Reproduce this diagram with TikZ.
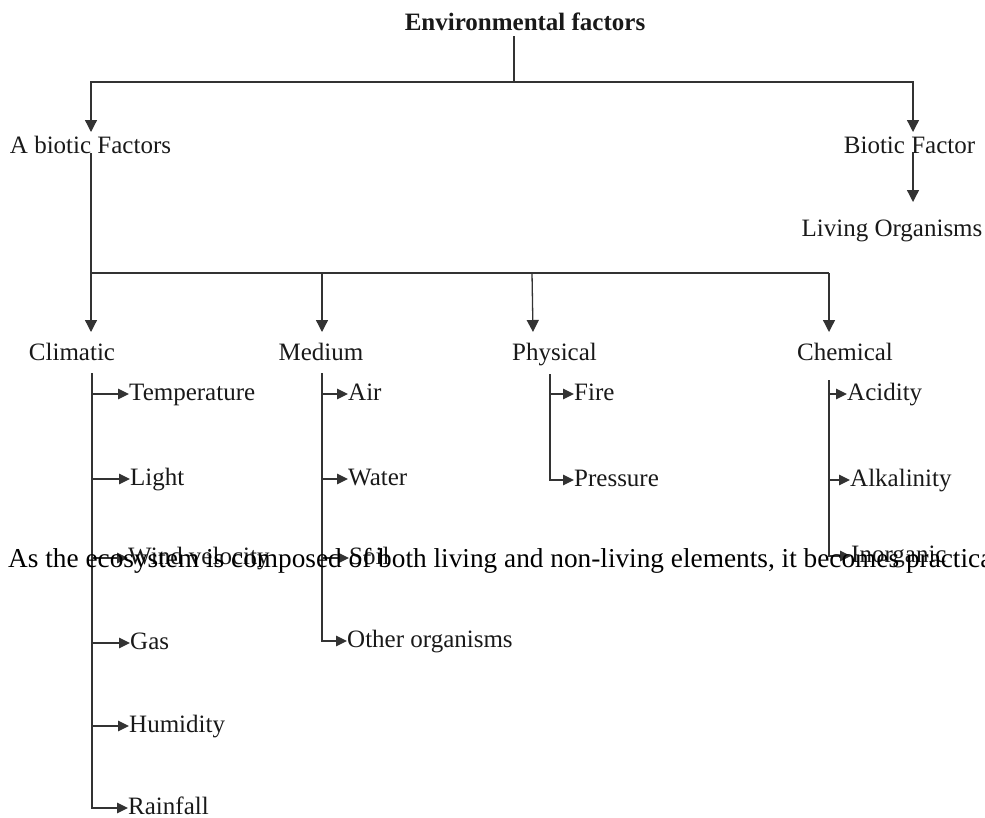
\documentclass[tikz,border=0pt]{standalone}
\usepackage{fontspec}
\setmainfont{Liberation Serif}
\usetikzlibrary{arrows.meta}
\tikzset{
  head/.style={font=\fontsize{25}{30}\selectfont, inner sep=0pt, anchor=base, text=black!90},
  leaf/.style={font=\fontsize{25}{30}\selectfont, inner sep=0pt, text height=12pt, text depth=0pt, anchor=west, text=black!90},
  ln/.style={draw=black!80, line width=1.3pt},
  arr/.style={ln, -{Triangle[length=12pt,width=12pt]}},
  sarr/.style={ln, -{Triangle[length=11pt,width=10.5pt]}},
}
\begin{document}
\begin{tikzpicture}[x=1pt,y=-1pt]
\useasboundingbox (0,0) rectangle (985,817);
\clip (0,0) rectangle (985,817);
% headings
\node[head, font=\fontsize{25}{30}\selectfont\bfseries] (env) at (525,30) {Environmental factors};
\node[head] (abio) at (90.5,153) {A biotic Factors};
\node[head] (bio) at (909.5,153) {Biotic Factor};
\node[head] (liv) at (892,236) {Living Organisms};
\node[head] (clim) at (72,360) {Climatic};
\node[head] (med) at (321,360) {Medium};
\node[head] (phys) at (554.5,360) {Physical};
\node[head] (chem) at (845,360) {Chemical};
% climatic leaves
\node[leaf] (temp) at (129,394) {Temperature};
\node[leaf] (light) at (130,479) {Light};
\node[leaf] (wind) at (128,558) {Wind velocity};
\node[leaf] (gas) at (130,643) {Gas};
\node[leaf] (hum) at (129,726) {Humidity};
\node[leaf] (rain) at (128,808) {Rainfall};
% medium leaves
\node[leaf] (air) at (348,394) {Air};
\node[leaf] (water) at (348,479) {Water};
\node[leaf] (soil) at (349,558) {Soil};
\node[leaf] (other) at (347,641) {Other organisms};
% physical leaves
\node[leaf] (fire) at (574,394) {Fire};
\node[leaf] (pres) at (574,480) {Pressure};
% chemical leaves
\node[leaf] (acid) at (847,394) {Acidity};
\node[leaf] (alk) at (850,480) {Alkalinity};
\node[leaf] (inorg) at (851,556) {Inorganic};
% junction coordinates
\coordinate (e0) at (514,36);
\coordinate (j0) at (514,82);
\coordinate (aTip) at (91,132);
\coordinate (bTip) at (913,132);
\coordinate (b0) at (913,152);
\coordinate (lTip) at (913,202);
\coordinate (a0) at (91,153);
\coordinate (h1) at (91,273);
\coordinate (h2) at (322,273);
\coordinate (h3) at (532,273);
\coordinate (h4) at (829,273);
\coordinate (cTip) at (91,332);
\coordinate (mTip) at (322,332);
\coordinate (pTip) at (533,332);
\coordinate (chTip) at (829,332);
\coordinate (ctop) at (92,373);
\coordinate (mtop) at (322,373);
\coordinate (ptop) at (550,374);
\coordinate (chtop) at (829,380);
% top tree
\draw[ln] (e0) -- (j0);
\draw[arr] (j0) -| (aTip);
\draw[arr] (j0) -| (bTip);
\draw[arr] (b0) -- (lTip);
\draw[ln] (a0) -- (h1) -- (h4);
\draw[arr] (h1) -- (cTip);
\draw[arr] (h2) -- (mTip);
\draw[arr] (h3) -- (pTip);
\draw[arr] (h4) -- (chTip);
% climatic branch
\draw[sarr] (ctop) |- (rain.west);
\foreach \n in {temp,light,wind,gas,hum} \draw[sarr] (ctop |- \n.west) -- (\n.west);
% medium branch
\draw[sarr] (mtop) |- (other.west);
\foreach \n in {air,water,soil} \draw[sarr] (mtop |- \n.west) -- (\n.west);
% physical branch
\draw[sarr] (ptop) |- (pres.west);
\draw[sarr] (ptop |- fire.west) -- (fire.west);
% chemical branch
\draw[sarr] (chtop) |- (inorg.west);
\foreach \n in {acid,alk} \draw[sarr] (chtop |- \n.west) -- (\n.west);
% overlapping sentence
\node[anchor=base west, inner sep=0pt, font=\fontsize{27.3}{30}\selectfont, text=black] (sent) at (8,567) {As the ecosystem is composed of both living and non-living elements, it becomes practical};
\end{tikzpicture}
\end{document}
